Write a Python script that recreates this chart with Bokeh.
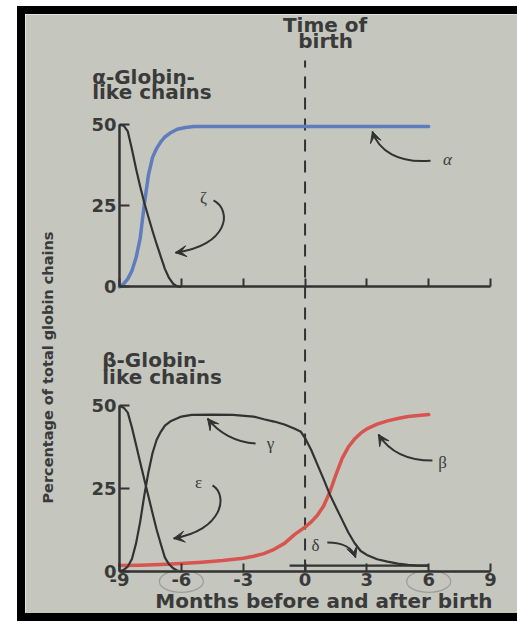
from bokeh.plotting import figure
from bokeh.models import Range1d, LinearAxis, FixedTicker, Label, Arrow, VeeHead, Spacer
from bokeh.layouts import row, column
from bokeh.embed import file_html
from bokeh.resources import INLINE

# ---------------- data ----------------
month_ticks = [-9, -6, -3, 0, 3, 6, 9]
month_tick_labels = ["-9", "-6", "-3", "0", "3", "6", "9"]
circled_ticks = [-6, 6]
pct_ticks = [0, 25, 50]
birth_month = 0

# alpha-globin-like chains (upper panel)
alpha_x = [-9, -8.8, -8.6, -8.4, -8.2, -8.0, -7.8, -7.6, -7.4, -7.2, -7.0, -6.8, -6.5, -6.2, -5.8, -5.4, -4.5, -3, 0, 3, 6]
alpha_y = [0, 1, 2.5, 5, 9, 15, 25.5, 34.5, 40, 42.8, 44.8, 46.3, 47.7, 48.7, 49.2, 49.5, 49.5, 49.5, 49.5, 49.5, 49.5]
zeta_x = [-9, -8.8, -8.6, -8.4, -8.2, -8.0, -7.8, -7.6, -7.4, -7.2, -7.0, -6.8, -6.6, -6.4, -6.2, -6.0]
zeta_y = [50, 49.8, 48.0, 42.5, 36.5, 31, 26, 21.6, 17.3, 13.2, 9.4, 5.6, 2.8, 1.0, 0.2, 0]

# beta-globin-like chains (lower panel)
epsilon_x = [-9, -8.8, -8.6, -8.4, -8.2, -8.0, -7.8, -7.6, -7.4, -7.2, -7.0, -6.8, -6.6, -6.4, -6.2, -6.0]
epsilon_y = [50, 49.5, 48.0, 43.5, 38.3, 33, 27.8, 22.7, 17.6, 12.6, 8.3, 4.2, 2.2, 1.0, 0.3, 0]
gamma_x = [-9, -8.8, -8.6, -8.4, -8.2, -8.0, -7.8, -7.6, -7.4, -7.2, -7.0, -6.8, -6.5, -6.0, -5.5,
           -4.5, -3.5, -2.5, -2.0, -1.5, -1.0, -0.5, -0.2, 0, 0.3, 0.6, 0.9, 1.2, 1.5, 1.8, 2.1,
           2.4, 2.7, 3.0, 3.5, 4.0, 4.5, 5.0, 5.5, 6.0]
gamma_y = [0, 0.5, 1.5, 3.8, 8.5, 15, 23, 30, 35.8, 39.8, 42.2, 44.1, 45.5, 46.8, 47.3,
           47.4, 47.3, 46.8, 46.0, 45.3, 44.4, 43.1, 42.2, 40.3, 36.7, 32.3, 27.9, 23.3, 19.4, 15.6, 11.8,
           8.6, 6.2, 5.0, 3.7, 3.0, 2.4, 2.0, 1.8, 1.8]
beta_x = [-9, -8, -7, -6, -5, -4, -3, -2.5, -2.0, -1.5, -1.0, -0.5, 0, 0.3, 0.6, 0.9, 1.2, 1.5,
          1.8, 2.1, 2.4, 2.7, 3.0, 3.5, 4.0, 4.5, 5.0, 5.5, 6.0]
beta_y = [1.8, 1.9, 2.1, 2.4, 2.8, 3.3, 4.0, 4.6, 5.4, 6.7, 8.5, 11.2, 13.4, 15.0, 17.0, 19.8, 24.0, 29.3,
          34.2, 37.6, 40.0, 41.8, 43.1, 44.5, 45.5, 46.2, 46.8, 47.1, 47.4]
delta_x = [-0.75, 0, 1, 2, 3, 4, 5, 6]
delta_y = [1.8, 1.8, 1.8, 1.8, 1.8, 1.8, 1.8, 1.8]

# ---------------- styles ----------------
PAPER = "#c5c7be"
INK = "#323232"
TEXT = "#3a3a3a"
BLUE = "#5f7cbc"
RED = "#d8544f"
SANS = "DejaVu Sans"
SERIF = "Liberation Serif"
BLACK_BAR = {"background-color": "black"}

p = figure(width=492, height=599,
           x_range=Range1d(-13.564, 10.308), y_range=Range1d(-12.69, 168.28),
           x_axis_type=None, y_axis_type=None, toolbar_location=None, output_backend="svg",
           min_border_left=0, min_border_right=0, min_border_top=0, min_border_bottom=0,
           background_fill_color=PAPER, border_fill_color=PAPER, outline_line_color=None)
p.extra_y_ranges = {"top": Range1d(-100.77, 84.10)}

# ---------------- axes ----------------
for rng in ("top", "default"):
    ya = LinearAxis(y_range_name=rng, fixed_location=-9, bounds=(0, 50),
                    ticker=FixedTicker(ticks=pct_ticks))
    ya.major_tick_in = 10
    ya.major_tick_out = 0
    ya.minor_tick_in = 0
    ya.minor_tick_out = 0
    ya.axis_line_width = 2.5
    ya.axis_line_color = INK
    ya.major_tick_line_width = 2
    ya.major_tick_line_color = INK
    ya.major_label_standoff = 3
    ya.major_label_text_font = SANS
    ya.major_label_text_font_style = "bold"
    ya.major_label_text_font_size = "18px"
    ya.major_label_text_color = TEXT
    p.add_layout(ya, "left")

    xa = LinearAxis(y_range_name=rng, fixed_location=0, bounds=(-9, 9),
                    ticker=FixedTicker(ticks=month_ticks))
    xa.major_tick_in = 8
    xa.major_tick_out = 0
    xa.minor_tick_in = 0
    xa.minor_tick_out = 0
    xa.axis_line_width = 2.5
    xa.axis_line_color = INK
    xa.major_tick_line_width = 2
    xa.major_tick_line_color = INK
    xa.major_label_standoff = 2
    xa.major_label_text_font = SANS
    xa.major_label_text_font_style = "bold"
    xa.major_label_text_font_size = "18px"
    xa.major_label_text_color = TEXT
    if rng == "default":
        xa.major_label_overrides = dict(zip(month_ticks, month_tick_labels))
    else:
        xa.major_label_overrides = {t: "" for t in month_ticks}
    p.add_layout(xa, "below")

# ---------------- birth line ----------------
p.segment(x0=[birth_month], y0=[0], x1=[birth_month], y1=[154.4],
          line_color=INK, line_width=2, line_dash="12 9")

# ---------------- curves ----------------
p.line(alpha_x, alpha_y, y_range_name="top", line_color=BLUE, line_width=3.5, line_join="round", line_cap="round")
p.line(zeta_x, zeta_y, y_range_name="top", line_color=INK, line_width=2.2, line_join="round")
p.line(beta_x, beta_y, line_color=RED, line_width=3.5, line_join="round", line_cap="round")
p.line(epsilon_x, epsilon_y, line_color=INK, line_width=2.2, line_join="round")
p.line(gamma_x, gamma_y, line_color=INK, line_width=2.2, line_join="round")
p.line(delta_x, delta_y, line_color=INK, line_width=2.2, line_join="round")

# hand-drawn circles around two tick labels
p.ellipse(x=circled_ticks, y=[-3.0, -3.0], width=44, height=22, width_units="screen",
          height_units="screen", fill_color=None, line_color="#9d9e98", line_width=1.3)

# ---------------- curved arrows ----------------
arrows = [
    # range, start, control0, control1, end
    ("top", (6.09, 39.0), (4.53, 38.1), (3.56, 42.1), (3.27, 48.0)),        # alpha
    ("top", (-4.44, 26.7), (-3.52, 23.6), (-3.71, 12.8), (-6.29, 10.6)),    # zeta
    ("default", (-2.40, 38.7), (-3.38, 39.0), (-4.20, 42.0), (-4.73, 46.2)),  # gamma
    ("default", (-4.49, 26.0), (-3.71, 23.0), (-4.00, 12.4), (-6.38, 10.0)),  # epsilon
    ("default", (6.18, 33.5), (4.87, 33.5), (4.05, 36.6), (3.56, 41.4)),    # beta
    ("default", (1.08, 8.76), (1.96, 8.76), (2.30, 6.95), (2.45, 4.23)),    # delta
]
for rng, s, c0, c1, e in arrows:
    p.bezier(x0=[s[0]], y0=[s[1]], x1=[e[0]], y1=[e[1]], cx0=[c0[0]], cy0=[c0[1]],
             cx1=[c1[0]], cy1=[c1[1]], y_range_name=rng, line_color=INK, line_width=2)
    p.add_layout(Arrow(end=VeeHead(size=11, fill_color=INK, line_color=INK, line_width=1),
                       x_start=c1[0], y_start=c1[1], x_end=e[0], y_end=e[1],
                       line_alpha=0, y_range_name=rng))

# ---------------- greek labels ----------------
greek = [
    ("α", 6.91, 39.35, "top", "italic"),
    ("ζ", -4.93, 27.6, "top", "normal"),
    ("γ", -1.68, 38.7, "default", "normal"),
    ("ε", -5.17, 26.9, "default", "normal"),
    ("β", 6.67, 32.9, "default", "normal"),
    ("δ", 0.51, 7.85, "default", "normal"),
]
for txt, gx, gy, rng, style in greek:
    p.add_layout(Label(x=gx, y=gy, text=txt, y_range_name=rng, text_font=SERIF,
                       text_font_size="17px", text_font_style=style, text_color=TEXT,
                       text_align="center", text_baseline="middle"))

# ---------------- titles ----------------
def title(txt, x, y, rng, align="left", size="20px", baseline="alphabetic"):
    p.add_layout(Label(x=x, y=y, text=txt, y_range_name=rng, text_font=SANS,
                       text_font_style="bold", text_font_size=size, text_color=TEXT,
                       text_align=align, text_baseline=baseline))

title("Time of", 0.97, 80.9, "top", align="center")
title("birth", 1.0, 75.9, "top", align="center")
title("α-Globin-", -10.33, 64.8, "top")
title("like chains", -10.33, 60.2, "top")
title("β-Globin-", -9.84, 63.9, "default")
title("like chains", -9.84, 58.9, "default")
title("Months before and after birth", 9.10, -12.55, "default", align="right", size="20px",
      baseline="bottom")
p.add_layout(Label(x=-12.45, y=61.6, text="Percentage of total globin chains",
                   text_font=SANS, text_font_style="bold", text_font_size="14.5px",
                   text_color=TEXT, text_align="center", text_baseline="middle",
                   angle=90, angle_units="deg"))

layout = column(
    Spacer(width=517, height=6),
    row(Spacer(width=17, height=8), Spacer(width=500, height=8, styles=BLACK_BAR)),
    row(Spacer(width=17, height=599), Spacer(width=8, height=599, styles=BLACK_BAR), p),
    row(Spacer(width=17, height=8), Spacer(width=500, height=8, styles=BLACK_BAR)),
)
open("out.html", "w").write(file_html(layout, INLINE, "Globin chains"))
